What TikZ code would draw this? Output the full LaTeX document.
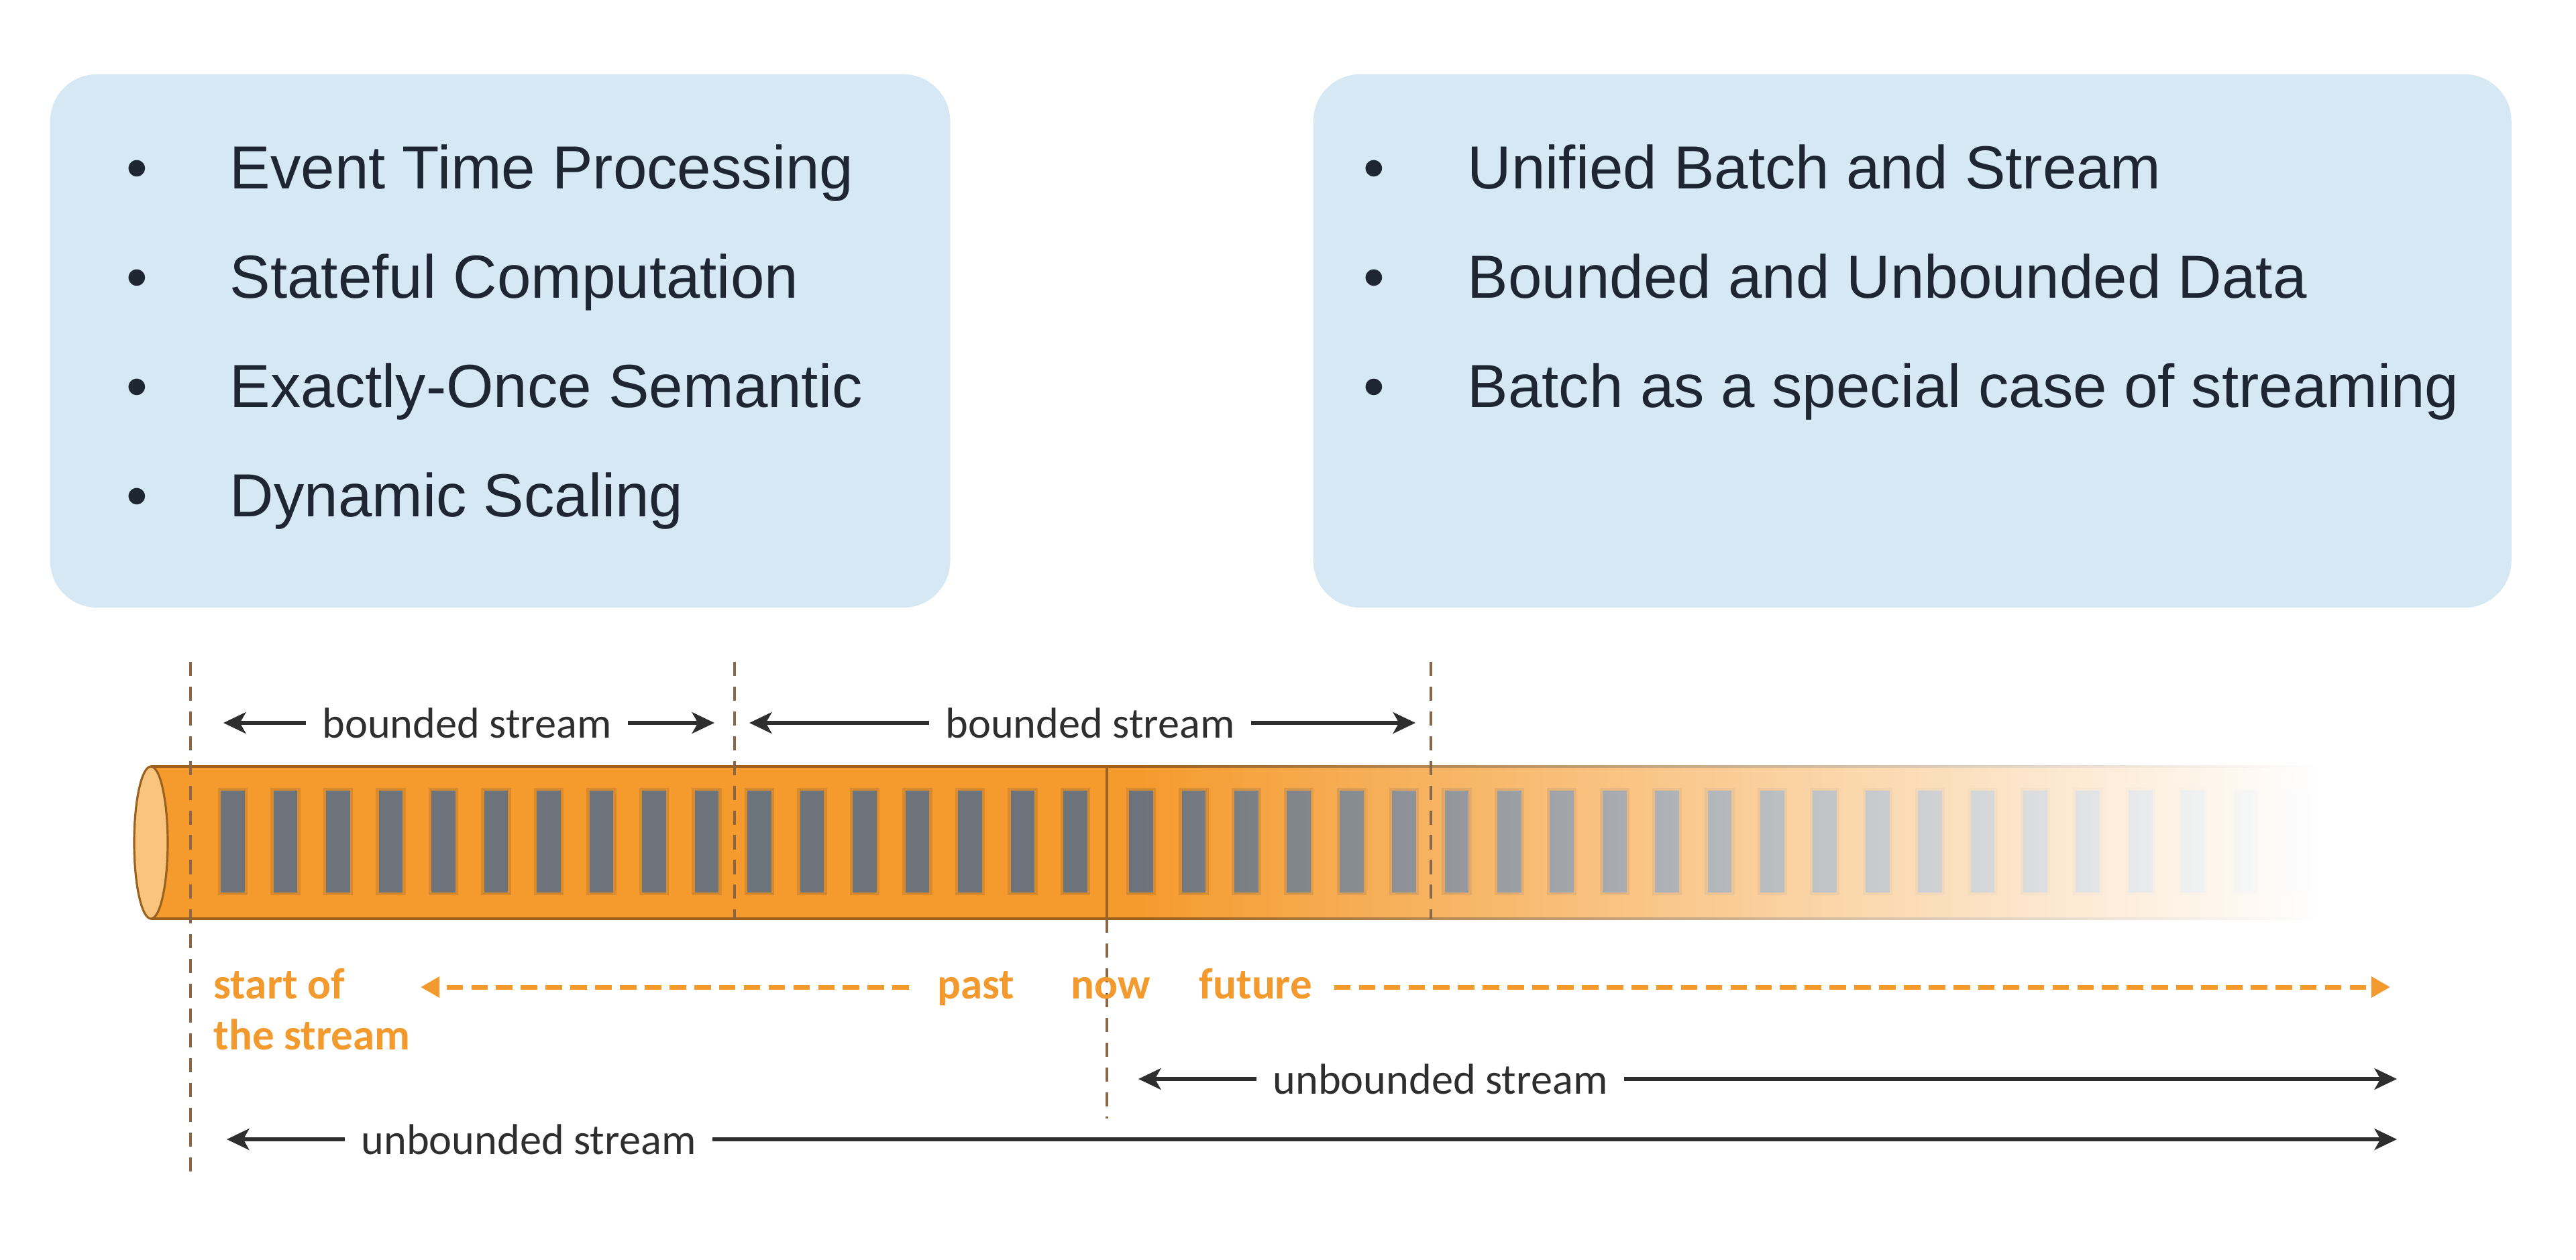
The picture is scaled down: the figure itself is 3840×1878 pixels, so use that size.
\documentclass[tikz,border=0pt]{standalone}
\usepackage{fontspec}
\setmainfont{Liberation Sans}
\newfontfamily\labelfont{Carlito}
\usepackage{tikz}
\usetikzlibrary{positioning,shapes,arrows.meta,calc,fadings}
\definecolor{boxblue}{HTML}{D7E8F5}
\definecolor{boxtext}{HTML}{1E2632}
\definecolor{pipe}{HTML}{F59B2E}
\definecolor{pipeedge}{HTML}{9C611E}
\definecolor{pipecap}{HTML}{F8C47E}
\definecolor{slot}{HTML}{6D737A}
\definecolor{slotrim}{HTML}{D98A2C}
\definecolor{timeorange}{HTML}{F29A2E}
\definecolor{cutbrown}{HTML}{8A6648}
\definecolor{arrowgray}{HTML}{2E2E2E}
\tikzfading[name=fade in east, left color=transparent!100, right color=transparent!0]
\tikzstyle{infobox}=[rectangle, fill=boxblue, rounded corners=0.7cm, anchor=north west, minimum height=7.95cm]
\tikzstyle{bullitem}=[anchor=base west, inner sep=0pt, text=boxtext, font=\fontsize{25.8}{30}\selectfont]
\tikzstyle{spanlabel}=[inner xsep=0.24cm, inner ysep=0pt, text=arrowgray, font=\labelfont\fontsize{18.3}{22}\selectfont]
\tikzstyle{timelabel}=[anchor=base, inner sep=0pt, text=timeorange, font=\labelfont\bfseries\fontsize{18.5}{21.6}\selectfont]
\tikzstyle{myarrow}=[-{Stealth[length=9.5pt, width=9pt, inset=2.5pt]}, line width=1.6pt, arrowgray]
\tikzstyle{timearrow}=[-{Triangle[length=8pt, width=8.5pt]}, line width=2pt, timeorange, dash pattern=on 7pt off 3.5pt]
\tikzstyle{cutline}=[cutbrown, line width=0.9pt, dash pattern=on 6pt off 4.5pt]
\tikzstyle{slotbox}=[fill=slot, draw=slotrim, line width=1.2pt]

\begin{document}
\begin{tikzpicture}[x=0.01cm, y=-0.01cm]
        \useasboundingbox (0,0) rectangle (3840,1878);

        % Feature boxes
        \node (features) [infobox, minimum width=13.41cm] at (74,110) {};
        \node (unified) [infobox, minimum width=17.85cm] at (1957,110) {};

        \node (evtime) [bullitem] at (188,281) {\makebox[1.54cm][l]{\textbullet}Event Time Processing};
        \node (state) [bullitem] at ($(evtime.base west)+(0,163)$) {\makebox[1.54cm][l]{\textbullet}Stateful Computation};
        \node (exactly) [bullitem] at ($(state.base west)+(0,163)$) {\makebox[1.54cm][l]{\textbullet}Exactly-Once Semantic};
        \node (scaling) [bullitem] at ($(exactly.base west)+(0,163)$) {\makebox[1.54cm][l]{\textbullet}Dynamic Scaling};

        \node (batchstream) [bullitem] at (2032,281) {\makebox[1.55cm][l]{\textbullet}Unified Batch and Stream};
        \node (boundeddata) [bullitem] at ($(batchstream.base west)+(0,163)$) {\makebox[1.55cm][l]{\textbullet}Bounded and Unbounded Data};
        \node (specialcase) [bullitem] at ($(boundeddata.base west)+(0,163)$) {\makebox[1.55cm][l]{\textbullet}Batch as a special case of streaming};

        % Stream pipe
        \fill[pipe] (225,1143) rectangle (3450,1370);
        \draw[pipeedge, line width=0.9pt] (225,1143) -- (3450,1143) (225,1370) -- (3450,1370);
        \filldraw[fill=pipecap, draw=pipeedge, line width=0.9pt] (225,1256.5) ellipse [x radius=25, y radius=113.5];
        \foreach \i in {0,...,16}
                \filldraw[slotbox] ({327+78.5*\i},1177) rectangle +(40,156);
        \foreach \k in {0,...,22}
                \filldraw[slotbox] ({1681+78.4*\k},1177) rectangle +(40,156);
        \draw[pipeedge, line width=1pt] (1650,1143) -- (1650,1370);
        \fill[white, path fading=fade in east] (1700,1128) rectangle (3452,1386);

        % Cut markers
        \coordinate (cutA) at (284,987);
        \coordinate (cutB) at (1095,987);
        \coordinate (cutC) at (2133,987);
        \coordinate (nowcut) at (1650,1370);
        \coordinate (farend) at (3573,1600);
        \draw[cutline] (cutA) -- ++(0,769);
        \draw[cutline] (cutB) -- ++(0,383);
        \draw[cutline] (cutC) -- ++(0,383);
        \draw[cutline] (nowcut) -- ++(0,298);

        % Bounded streams
        \node (bounded1) [spanlabel] at (696,1078) {bounded stream};
        \node (bounded2) [spanlabel] at (1625,1078) {bounded stream};
        \draw[myarrow] (bounded1.west) -- ($(cutA |- bounded1)+(49,0)$);
        \draw[myarrow] (bounded1.east) -- ($(cutB |- bounded1)+(-30,0)$);
        \draw[myarrow] (bounded2.west) -- ($(cutB |- bounded2)+(22,0)$);
        \draw[myarrow] (bounded2.east) -- ($(cutC |- bounded2)+(-23,0)$);

        % Time line
        \node (start) [timelabel, anchor=base west, align=left] at (318,1565) {start of\\the stream};
        \node (past) [timelabel] at (1455,1489) {past};
        \node (now) [timelabel] at (1656,1489) {now};
        \node (future) [timelabel] at (1872,1489) {future};
        \draw[timearrow] ($(past.base west)+(-42,-17)$) -- ($(start.base west |- past.base)+(309,-17)$);
        \draw[timearrow] ($(future.base east)+(32,-17)$) -- ($(farend |- future.base)+(-10,-17)$);

        % Unbounded streams
        \node (unbounded1) [spanlabel] at (2147,1609) {unbounded stream};
        \node (unbounded2) [spanlabel] at (788,1699) {unbounded stream};
        \draw[myarrow] (unbounded1.west) -- ($(nowcut |- unbounded1)+(47,0)$);
        \draw[myarrow] (unbounded1.east) -- (farend |- unbounded1);
        \draw[myarrow] (unbounded2.west) -- ($(cutA |- unbounded2)+(54,0)$);
        \draw[myarrow] (unbounded2.east) -- (farend |- unbounded2);

\end{tikzpicture}
\end{document}
